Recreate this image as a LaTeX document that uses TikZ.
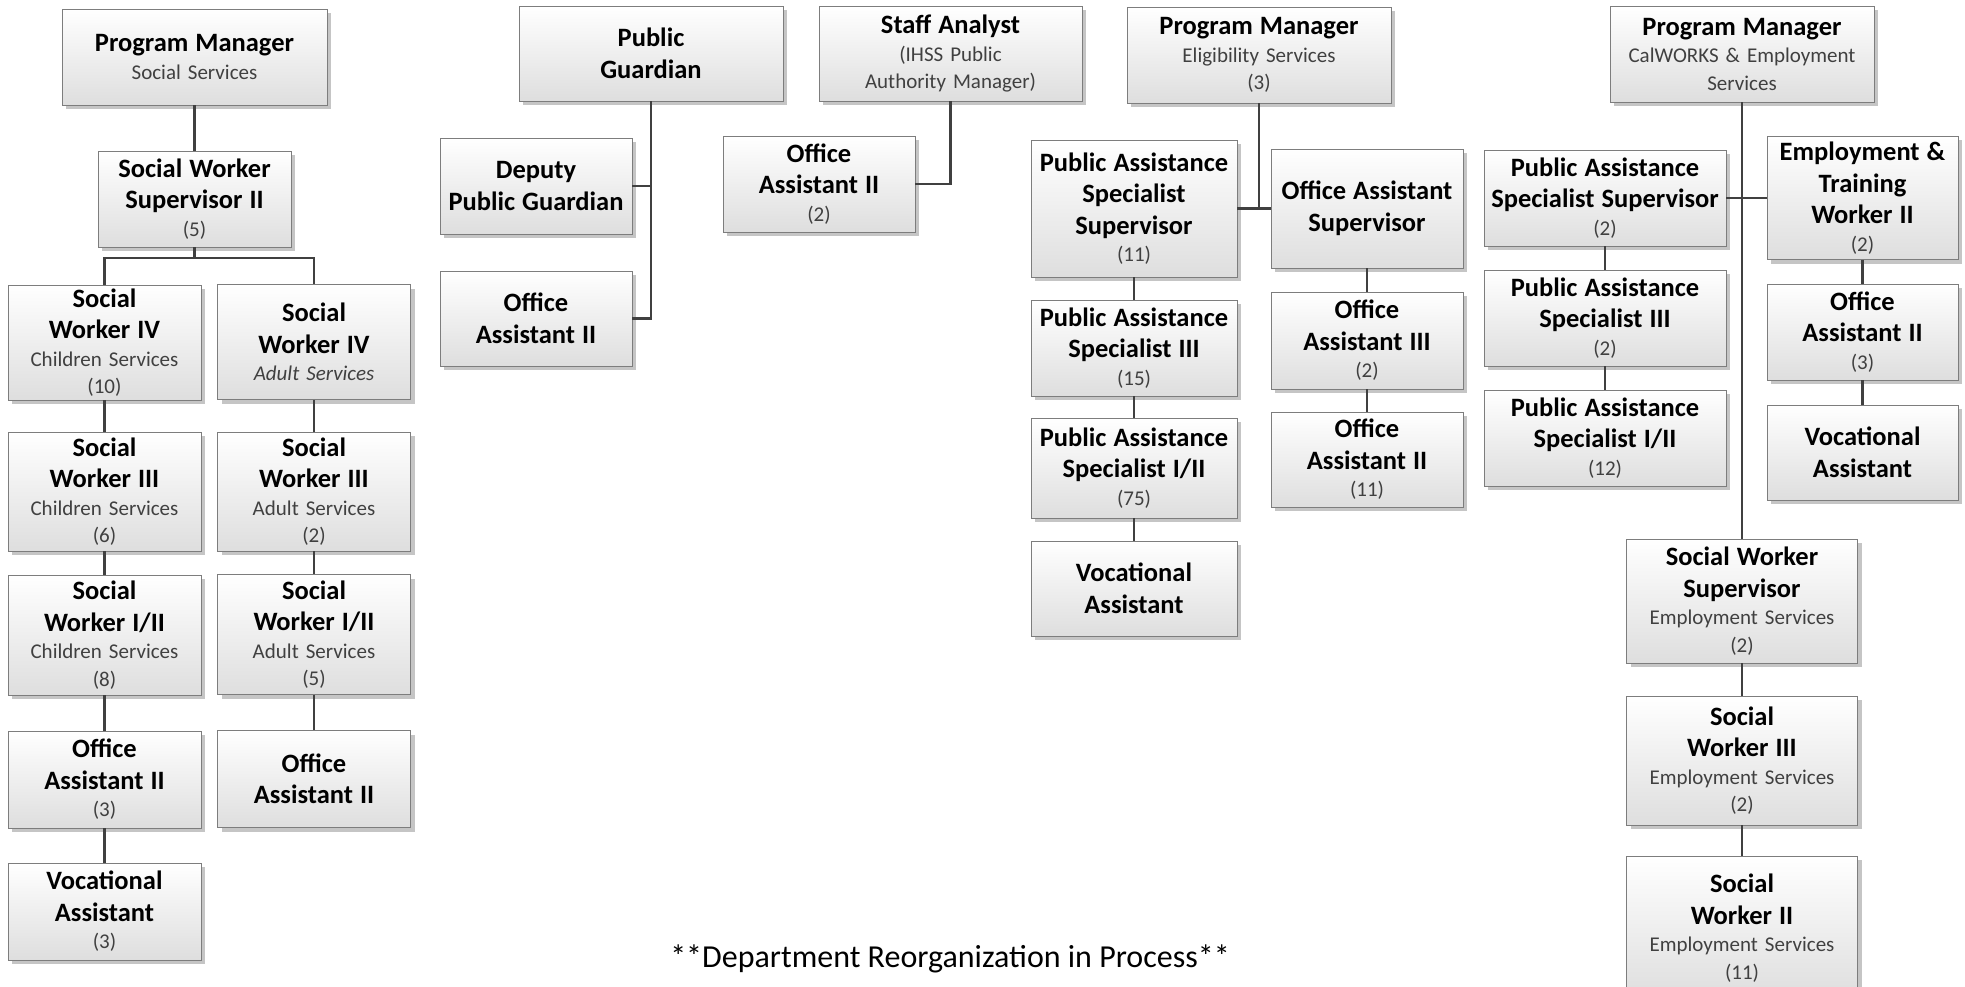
\documentclass[tikz,border=0pt]{standalone}
\usepackage{fontspec}
\setmainfont{Carlito}
\usepackage{tikz}
\usetikzlibrary{shadows}

\definecolor{linegray}{RGB}{64,64,64}
\definecolor{subgray}{RGB}{64,64,64}
\definecolor{framegray}{RGB}{125,125,125}
\definecolor{shadegray}{RGB}{222,222,222}

\newcommand{\boxtitle}[1]{{\fontsize{26.5}{31.5}\selectfont\bfseries #1\par}}
\newcommand{\boxsub}[1]{{\fontsize{21}{27.5}\selectfont\color{subgray}#1\par}}

\begin{document}
\begin{tikzpicture}[x=1pt, y=-1pt,
    box/.style={draw=framegray, line width=0.9pt, top color=white, bottom color=shadegray,
        drop shadow={shadow xshift=4pt, shadow yshift=-4pt, fill=black!45},
        align=center, inner xsep=3pt, inner ysep=1pt, font=\fontsize{21}{27.5}\selectfont},
    link/.style={draw=linegray, line width=2.8pt}]
    \fill[white] (0,0) rectangle (1965,987);
    \useasboundingbox (0,0) rectangle (1965,987);

    % social services
    \node[box, text width=259pt, minimum height=96pt] (pmss) at (194.5,57) {\boxtitle{Program Manager}\boxsub{Social Services}};
    \node[box, text width=187pt, minimum height=96pt] (sws2) at (194.5,199) {\boxtitle{Social Worker\\Supervisor II}\boxsub{(5)}};
    \node[box, text width=187pt, minimum height=115pt] (sw4c) at (104.5,342.5) {\boxtitle{Social\\Worker IV}\boxsub{Children Services\\(10)}};
    \node[box, text width=187pt, minimum height=115pt] (sw4a) at (314,342) {\boxtitle{Social\\Worker IV}\boxsub{\itshape Adult Services}};
    \node[box, text width=187pt, minimum height=119pt] (sw3c) at (104.5,491.5) {\boxtitle{Social\\Worker III}\boxsub{Children Services\\(6)}};
    \node[box, text width=187pt, minimum height=119pt] (sw3a) at (314,491.5) {\boxtitle{Social\\Worker III}\boxsub{Adult Services\\(2)}};
    \node[box, text width=187pt, minimum height=120pt] (sw12c) at (104.5,635) {\boxtitle{Social\\Worker I/II}\boxsub{Children Services\\(8)}};
    \node[box, text width=187pt, minimum height=120pt] (sw12a) at (314,634.5) {\boxtitle{Social\\Worker I/II}\boxsub{Adult Services\\(5)}};
    \node[box, text width=187pt, minimum height=97pt] (oa2c) at (104.5,779.5) {\boxtitle{Office\\Assistant II}\boxsub{(3)}};
    \node[box, text width=187pt, minimum height=97pt] (oa2a) at (314,779) {\boxtitle{Office\\Assistant II}};
    \node[box, text width=187pt, minimum height=97pt] (vac) at (104.5,911.5) {\boxtitle{Vocational\\Assistant}\boxsub{(3)}};
    \coordinate (ssjn) at (194.5,258);

    % public guardian
    \node[box, text width=258pt, minimum height=95pt] (pg) at (651,53.5) {\boxtitle{Public\\Guardian}};
    \node[box, text width=186pt, minimum height=96pt] (dpg) at (536,186) {\boxtitle{Deputy\\Public Guardian}};
    \node[box, text width=186pt, minimum height=95pt] (oapg) at (536,318.5) {\boxtitle{Office\\Assistant II}};

    % staff analyst
    \node[box, text width=257pt, minimum height=95pt] (sa) at (950.5,53.5) {\boxtitle{Staff Analyst}\boxsub{(IHSS Public\\Authority Manager)}};
    \node[box, text width=186pt, minimum height=96pt] (oasa) at (819,184) {\boxtitle{Office\\Assistant II}\boxsub{(2)}};

    % eligibility services
    \node[box, text width=258pt, minimum height=96pt] (pmes) at (1259,55) {\boxtitle{Program Manager}\boxsub{Eligibility Services\\(3)}};
    \node[box, text width=200pt, minimum height=137pt] (pass) at (1134,208.5) {\boxtitle{Public Assistance\\Specialist\\Supervisor}\boxsub{(11)}};
    \node[box, text width=186pt, minimum height=119pt] (oas) at (1367,208.5) {\boxtitle{Office Assistant\\Supervisor}};
    \node[box, text width=200pt, minimum height=96pt] (pas3) at (1134,348) {\boxtitle{Public Assistance\\Specialist III}\boxsub{(15)}};
    \node[box, text width=200pt, minimum height=100pt] (pas12) at (1134,468) {\boxtitle{Public Assistance\\Specialist I/II}\boxsub{(75)}};
    \node[box, text width=200pt, minimum height=95pt] (vae) at (1134,588.5) {\boxtitle{Vocational\\Assistant}};
    \node[box, text width=186pt, minimum height=97pt] (oa3) at (1367,340.5) {\boxtitle{Office\\Assistant III}\boxsub{(2)}};
    \node[box, text width=186pt, minimum height=95pt] (oa2e) at (1367,459.5) {\boxtitle{Office\\Assistant II}\boxsub{(11)}};
    \coordinate (elgjn) at (1259,208.5);

    % calworks & employment
    \node[box, text width=258pt, minimum height=96pt] (pmcw) at (1742,54) {\boxtitle{Program Manager}\boxsub{CalWORKS \& Employment\\Services}};
    \node[box, text width=236pt, minimum height=96pt] (passc) at (1605,198) {\boxtitle{Public Assistance\\Specialist Supervisor}\boxsub{(2)}};
    \node[box, text width=236pt, minimum height=96pt] (pas3c) at (1605,318) {\boxtitle{Public Assistance\\Specialist III}\boxsub{(2)}};
    \node[box, text width=236pt, minimum height=96pt] (pas12c) at (1605,438) {\boxtitle{Public Assistance\\Specialist I/II}\boxsub{(12)}};
    \node[box, text width=185pt, minimum height=123pt] (etw) at (1862.5,198) {\boxtitle{Employment \&\\Training\\Worker II}\boxsub{(2)}};
    \node[box, text width=185pt, minimum height=96pt] (oa2cw) at (1862.5,332) {\boxtitle{Office\\Assistant II}\boxsub{(3)}};
    \node[box, text width=185pt, minimum height=95pt] (vacw) at (1862.5,452.5) {\boxtitle{Vocational\\Assistant}};
    \node[box, text width=225pt, minimum height=124pt] (swse) at (1742,601) {\boxtitle{Social Worker\\Supervisor}\boxsub{Employment Services\\(2)}};
    \node[box, text width=225pt, minimum height=129pt] (sw3e) at (1742,760.5) {\boxtitle{Social\\Worker III}\boxsub{Employment Services\\(2)}};
    \node[box, text width=225pt, minimum height=144pt] (sw2e) at (1742,928) {\boxtitle{Social\\Worker II}\boxsub{Employment Services\\(11)}};

    \node[font=\fontsize{32}{38}\selectfont] (note) at (950,959) {**Department Reorganization in Process**};

    \draw [link] (pmss) edge (sws2)
                 (sws2) edge (ssjn)
                 (sw4c) edge (sw3c)
                 (sw3c) edge (sw12c)
                 (sw12c) edge (oa2c)
                 (oa2c) edge (vac)
                 (sw4a) edge (sw3a)
                 (sw3a) edge (sw12a)
                 (sw12a) edge (oa2a);
    \draw [link] (sw4c.north) |- (ssjn) -| (sw4a.north);

    \draw [link] (pg.south) |- (dpg.east)
                 (pg.south) |- (oapg.east);
    \draw [link] (sa.south) |- (oasa.east);

    \draw [link] (pmes) edge (elgjn)
                 (pass) edge (oas)
                 (pass) edge (pas3)
                 (pas3) edge (pas12)
                 (pas12) edge (vae)
                 (oas) edge (oa3)
                 (oa3) edge (oa2e);

    \draw [link] (pmcw) edge (swse)
                 (passc) edge (etw)
                 (passc) edge (pas3c)
                 (pas3c) edge (pas12c)
                 (etw) edge (oa2cw)
                 (oa2cw) edge (vacw)
                 (swse) edge (sw3e)
                 (sw3e) edge (sw2e);
\end{tikzpicture}
\end{document}
